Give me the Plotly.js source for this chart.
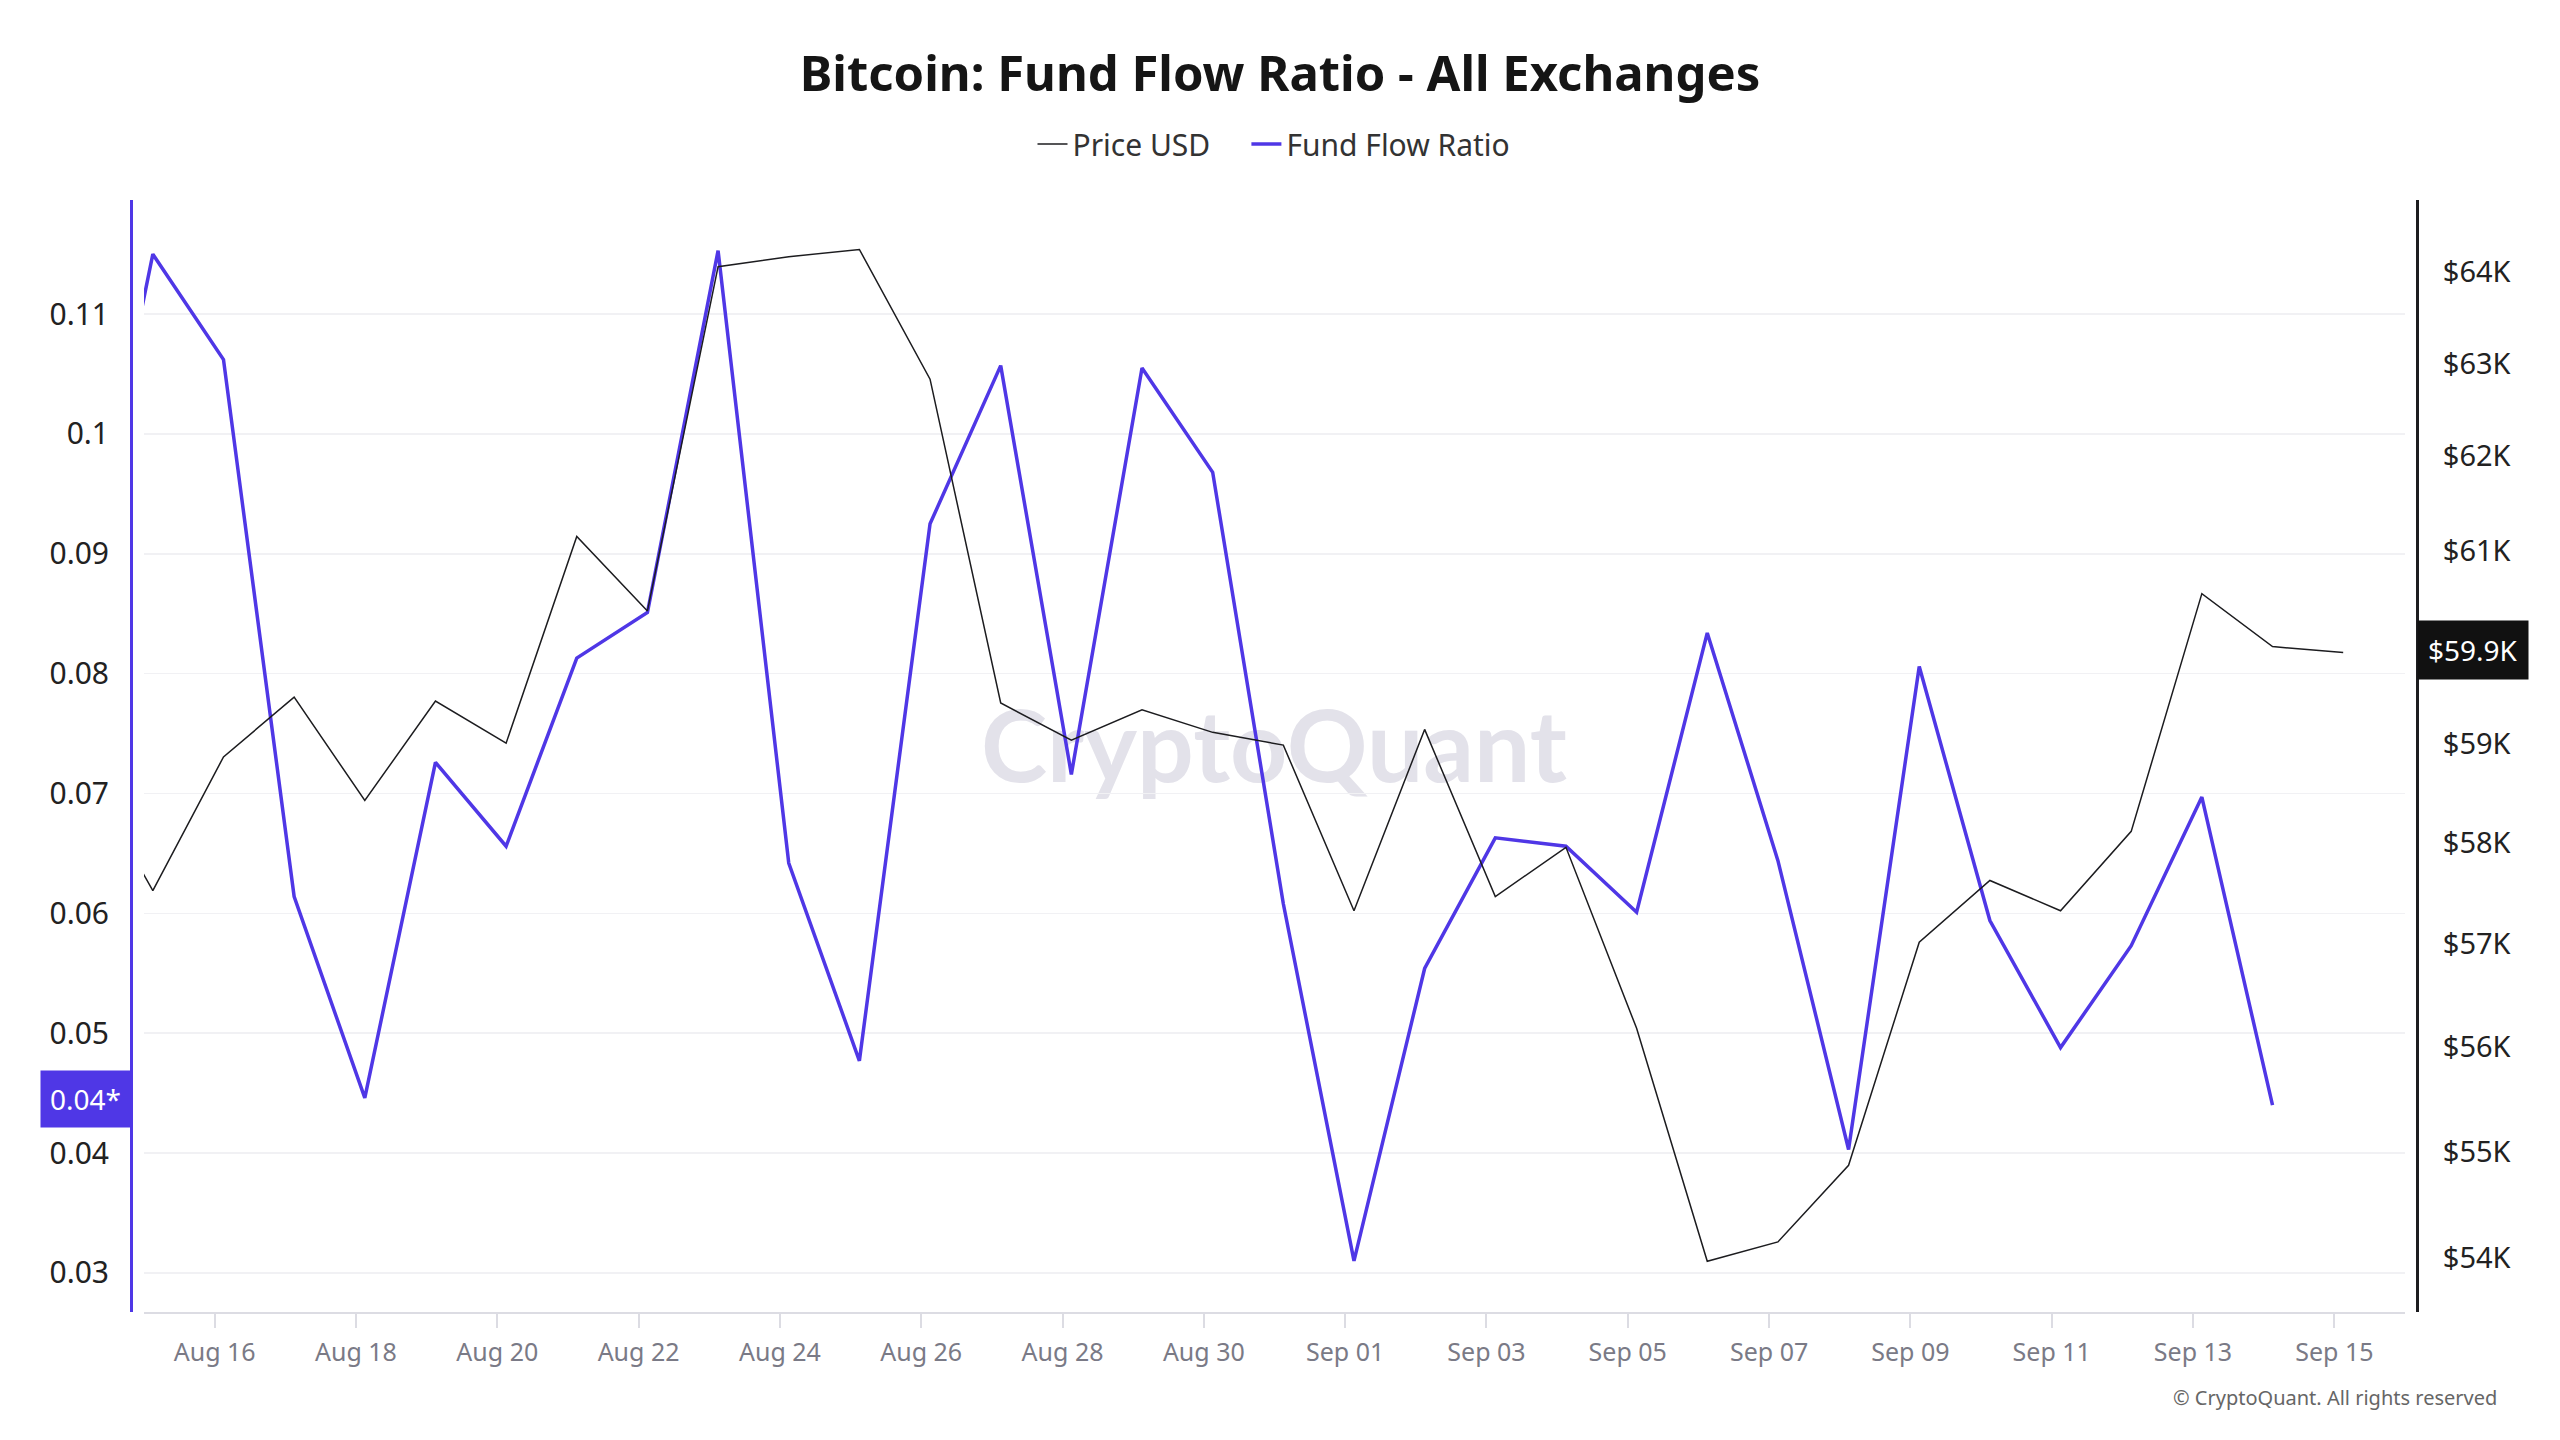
<!DOCTYPE html>
<html>
<head>
<meta charset="utf-8">
<script src="https://cdn.plot.ly/plotly-3.0.1.min.js"></script>
<style>
  html, body { margin: 0; padding: 0; background: #fff; }
  #chart { width: 2560px; height: 1440px; }
</style>
</head>
<body>
<div id="chart"></div>
<script>
// daily points, Aug 14 - Sep 15 2024 (timestamps sit ~03:00 after the day tick)
var dates = [
  '2024-08-14 03:00', '2024-08-15 03:00', '2024-08-16 03:00', '2024-08-17 03:00',
  '2024-08-18 03:00', '2024-08-19 03:00', '2024-08-20 03:00', '2024-08-21 03:00',
  '2024-08-22 03:00', '2024-08-23 03:00', '2024-08-24 03:00', '2024-08-25 03:00',
  '2024-08-26 03:00', '2024-08-27 03:00', '2024-08-28 03:00', '2024-08-29 03:00',
  '2024-08-30 03:00', '2024-08-31 03:00', '2024-09-01 03:00', '2024-09-02 03:00',
  '2024-09-03 03:00', '2024-09-04 03:00', '2024-09-05 03:00', '2024-09-06 03:00',
  '2024-09-07 03:00', '2024-09-08 03:00', '2024-09-09 03:00', '2024-09-10 03:00',
  '2024-09-11 03:00', '2024-09-12 03:00', '2024-09-13 03:00', '2024-09-14 03:00',
  '2024-09-15 03:00'
]

var fundFlowRatio = [
  0.0860, 0.1150, 0.1062, 0.0614, 0.0446, 0.0726, 0.0656, 0.0813,
  0.0851, 0.1153, 0.0642, 0.0477, 0.0925, 0.1057, 0.0716, 0.1055,
  0.0968, 0.0608, 0.0310, 0.0554, 0.0663, 0.0656, 0.0601, 0.0834,
  0.0644, 0.0403, 0.0806, 0.0594, 0.0488, 0.0573, 0.0697, 0.0440,
  null
]

var priceUsd = [
  58780, 57530, 58870, 59480, 58430, 59440, 59010, 61150,
  60370, 64060, 64170, 64250, 62830, 59420, 59040, 59350,
  59120, 58990, 57330, 59150, 57470, 57960, 56180, 53970,
  54150, 54870, 57020, 57630, 57330, 58120, 60550, 60000,
  59940
]

// $60K sits under the last-value tag, so it is not labelled
var priceTicks = [54000, 55000, 56000, 57000, 58000, 59000, 61000, 62000, 63000, 64000]
var priceTickText = ['$54K', '$55K', '$56K', '$57K', '$58K', '$59K', '$61K', '$62K', '$63K', '$64K']

var ratioTag = '0.04*'
var ratioTagValue = 0.0445
var priceTag = '$59.9K'
var priceTagValue = 59900

var purple = '#4f37e6'
var dark = '#1c1c1f'
var font = 'Noto Sans, Open Sans, sans-serif'
var nb = '\u00a0\u00a0\u00a0\u00a0'

// left / right axis lines sit 13px outside the plotted area
var plotW = 2560 - 131 - 143

const fundTrace = {
  x: dates,
  y: fundFlowRatio,
  name: 'Fund Flow Ratio',
  type: 'scatter',
  mode: 'lines',
  yaxis: 'y',
  legendrank: 2,
  line: { color: purple, width: 3.5 },
  hoverinfo: 'skip'
}

const priceTrace = {
  x: dates,
  y: priceUsd,
  name: 'Price USD' + nb,
  type: 'scatter',
  mode: 'lines',
  yaxis: 'y2',
  legendrank: 1,
  line: { color: dark, width: 1.5 },
  hoverinfo: 'skip'
}

const layout = {
  width: 2560,
  height: 1440,
  paper_bgcolor: '#ffffff',
  plot_bgcolor: '#ffffff',
  font: { family: font, color: '#222' },
  margin: { l: 131, r: 143, t: 200, b: 128 },
  showlegend: true,
  hovermode: false,
  title: {
    text: '<b>Bitcoin: Fund Flow Ratio - All Exchanges</b>',
    font: { family: font, size: 49, color: '#151515' },
    x: 0.5,
    xanchor: 'center',
    y: 1 - 74 / 1440,
    yanchor: 'middle'
  },
  legend: {
    orientation: 'h',
    x: 0.5,
    xanchor: 'center',
    y: 1 + 56 / 1112,
    yanchor: 'middle',
    font: { family: font, size: 30, color: '#333' },
    traceorder: 'normal'
  },
  xaxis: {
    type: 'date',
    domain: [13 / plotW, 1 - 12 / plotW],
    range: ['2024-08-15 00:00', '2024-09-16 00:00'],
    tick0: '2024-08-16',
    dtick: 2 * 86400000,
    tickformat: '%b %d',
    showgrid: false,
    zeroline: false,
    showline: true,
    linecolor: '#dcdce3',
    linewidth: 2,
    ticks: 'outside',
    ticklen: 14,
    tickwidth: 2,
    tickcolor: '#dcdce3',
    ticklabelstandoff: 3,
    tickfont: { family: font, size: 25, color: '#7a7a86' }
  },
  yaxis: {
    anchor: 'free',
    position: 0,
    range: [0.02674, 0.11952],
    tick0: 0,
    dtick: 0.01,
    showgrid: true,
    gridcolor: '#f1f1f4',
    gridwidth: 1.5,
    zeroline: false,
    showline: true,
    linecolor: purple,
    linewidth: 3,
    ticks: '',
    ticklabelstandoff: 15,
    tickfont: { family: font, size: 30, color: '#222' }
  },
  yaxis2: {
    overlaying: 'y',
    side: 'right',
    anchor: 'free',
    position: 1,
    type: 'log',
    range: [Math.log10(53500), Math.log10(64800)],
    tickvals: priceTicks,
    ticktext: priceTickText,
    showgrid: false,
    zeroline: false,
    showline: true,
    linecolor: dark,
    linewidth: 3,
    ticks: '',
    ticklabelstandoff: 18,
    tickfont: { family: font, size: 29, color: '#222' }
  },
  shapes: [{
    type: 'rect',
    xref: 'paper',
    yref: 'paper',
    x0: 0.35, x1: 0.65,
    y0: 0.458, y1: 0.568,
    line: { width: 0 },
    fillcolor: 'rgba(0,0,0,0)',
    layer: 'below',
    label: {
      text: 'CryptoQuant',
      textposition: 'middle center',
      font: { family: 'Lato, sans-serif', size: 100, color: '#e3e2ea', weight: 700 }
    }
  }],
  annotations: [
    {
      xref: 'paper', x: 0, xanchor: 'right',
      yref: 'y', y: ratioTagValue, yanchor: 'middle',
      text: ratioTag,
      showarrow: false,
      bgcolor: purple,
      borderpad: 9,
      font: { family: font, size: 28, color: '#ffffff' }
    },
    {
      xref: 'paper', x: 1, xanchor: 'left',
      yref: 'y2', y: Math.log10(priceTagValue), yanchor: 'middle',
      yshift: 6,
      text: priceTag,
      showarrow: false,
      bgcolor: '#111111',
      borderpad: 10,
      font: { family: font, size: 28, color: '#ffffff' }
    },
    {
      xref: 'paper', x: (2499 - 131) / plotW, xanchor: 'right',
      yref: 'paper', y: (1312 - 1397) / 1112, yanchor: 'middle',
      text: '© CryptoQuant. All rights reserved',
      showarrow: false,
      font: { family: font, size: 20, color: '#666' }
    }
  ]
}

Plotly.newPlot('chart', [fundTrace, priceTrace], layout, { displayModeBar: false, staticPlot: true })
</script>
</body>
</html>
